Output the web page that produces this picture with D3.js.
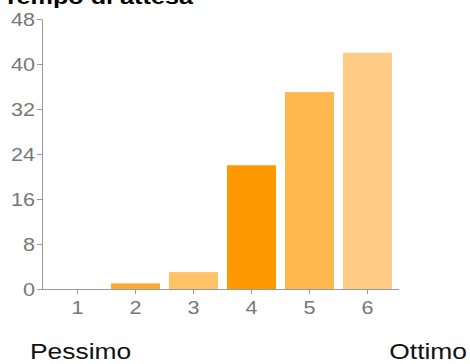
<!DOCTYPE html>
<html><head><meta charset="utf-8">
<script src="https://cdn.jsdelivr.net/npm/d3@7"></script>
<style>html,body{margin:0;padding:0;background:#fff;}svg{display:block;}</style>
</head><body>
<script>
const title = "Tempo di attesa";
const categories = ["1","2","3","4","5","6"];
const values = [0, 1, 3, 22, 35, 42];
const colors = ["#FFA833", "#FFA833", "#FFC266", "#FF9900", "#FFB84D", "#FFCC88"];
const yTicks = [0, 8, 16, 24, 32, 40, 48];
const leftLabel = "Pessimo";
const rightLabel = "Ottimo";

const W = 470, H = 364, SX = 1.2;
const font = "Liberation Sans, Arial, sans-serif";
const svg = d3.select("body").append("svg").attr("width", W).attr("height", H);

const x = d3.scaleBand().domain(categories).range([42, 403]).paddingInner(0.155).paddingOuter(0.19);
const y = d3.scaleLinear().domain([0, 48]).range([289, 19]);

function stretch(sel, anchor) {
  sel.each(function() {
    const t = d3.select(this);
    const tx = +t.attr("x") || 0, ty = +t.attr("y") || 0;
    t.attr("x", 0).attr("y", 0).attr("transform", `translate(${tx},${ty}) scale(${SX},1)`);
  });
}

// bars
svg.append("g").selectAll("rect").data(values).join("rect")
  .attr("x", (d, i) => x(categories[i]))
  .attr("width", x.bandwidth())
  .attr("y", d => y(d))
  .attr("height", d => y(0) - y(d))
  .attr("fill", (d, i) => colors[i]);

// y axis
const gy = svg.append("g").attr("transform", "translate(42,0)")
  .call(d3.axisLeft(y).tickValues(yTicks).tickSize(5).tickSizeOuter(0).tickPadding(2));
gy.select(".domain").attr("stroke", "#9a9a9a");
gy.selectAll(".tick line").attr("stroke", "#9a9a9a");
gy.selectAll(".tick text").attr("fill", "#777").style("font-family", font).style("font-size", "18px").attr("dy", null).attr("y", 6.5);
gy.selectAll(".tick text").each(function() {
  d3.select(this).attr("transform", `translate(-7,6.5) scale(${SX},1)`).attr("x", 0).attr("y", 0);
});

// x axis
const gx = svg.append("g").attr("transform", `translate(0,${y(0)})`)
  .call(d3.axisBottom(x).tickSize(5).tickSizeOuter(0).tickPadding(3));
gx.select(".domain").attr("d", "M42,0.5H399").attr("stroke", "#9a9a9a");
gx.selectAll(".tick line").attr("stroke", "#9a9a9a");
gx.selectAll(".tick text").attr("fill", "#777").style("font-family", font).style("font-size", "18px")
  .each(function() {
    d3.select(this).attr("dy", null).attr("y", 0).attr("transform", `translate(0,25) scale(${SX},1)`);
  });

// title
svg.append("text").text(title)
  .attr("transform", `translate(3,4) scale(${SX},1)`)
  .style("font-family", font).style("font-size", "21px").style("font-weight", "bold").attr("fill", "#000");

// bottom labels
svg.append("text").text(leftLabel)
  .attr("transform", `translate(30,359) scale(${SX},1)`)
  .style("font-family", font).style("font-size", "22px").attr("fill", "#111");
svg.append("text").text(rightLabel)
  .attr("text-anchor", "end")
  .attr("transform", `translate(467,359) scale(${SX},1)`)
  .style("font-family", font).style("font-size", "22px").attr("fill", "#111");
</script>
</body></html>
